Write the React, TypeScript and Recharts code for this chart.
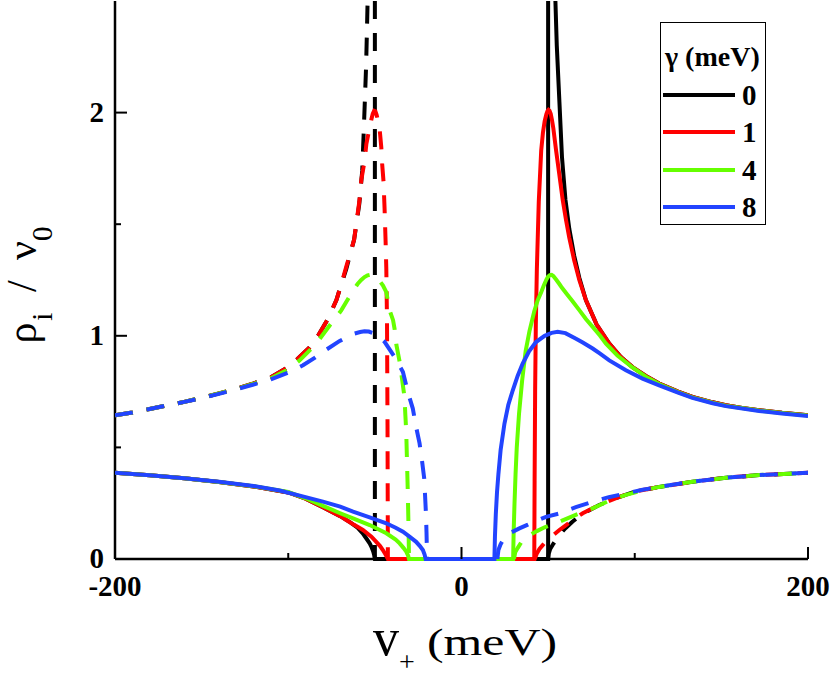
import React from 'react';
import { LineChart, Line, XAxis, YAxis } from 'recharts';

type Pt = [number, number | null];

const gammaLabels = ['0', '1', '4', '8'];
const gammaColors = ['#000000', '#ff0000', '#66ff00', '#2244ff'];

const xTicks = [-200, -100, 0, 100, 200];
const xLabeled = [-200, 0, 200];
const yTicks = [0, 0.5, 1, 1.5, 2];
const yLabeled = [0, 1, 2];

// solid curves (gamma = 0, 1, 4, 8)
const solid0: Pt[] = [[-200,0.386],[-180,0.375],[-160,0.362],[-140,0.345],[-120,0.325],[-100,0.298],[-90,0.27],[-80,0.232],[-70,0.192],[-64,0.163],[-60,0.14],[-57,0.115],[-55,0.093],[-53,0.07],[-52,0.055],[-51,0.035],[-50.4,0.018],[-50,0],[50,0],[50,2.5],[52,null],[54.2,2.5],[55,2.3],[56.5,2.05],[58,1.8],[60,1.61],[62.2,1.48],[65,1.36],[68,1.26],[71.8,1.16],[78,1.05],[85.3,0.965],[92,0.905],[98.7,0.86],[106.4,0.82],[114.1,0.786],[125,0.75],[133.3,0.726],[145,0.702],[152.6,0.689],[162,0.677],[171.8,0.667],[185,0.655],[200,0.644]];
const solid1: Pt[] = [[-200,0.386],[-180,0.375],[-160,0.362],[-140,0.345],[-120,0.325],[-100,0.298],[-90,0.27],[-80,0.232],[-70,0.192],[-66.5,0.175],[-62,0.153],[-56.9,0.13],[-52,0.1],[-49.2,0.077],[-47,0.058],[-45.4,0.04],[-44,0.022],[-43,0.008],[-42.5,0],[42,0],[42.2,0.35],[42.5,0.75],[42.9,1.05],[43.5,1.3],[44.6,1.6],[46,1.83],[47,1.91],[48,1.962],[49,1.993],[49.6,2.006],[50.2,2.012],[50.8,2.008],[51.5,1.995],[52.2,1.968],[53,1.93],[54.6,1.83],[56.5,1.72],[58.4,1.61],[60.3,1.52],[62.2,1.44],[65,1.34],[68,1.25],[71.8,1.16],[78,1.05],[85.3,0.965],[92,0.905],[98.7,0.86],[106.4,0.82],[114.1,0.786],[125,0.75],[133.3,0.726],[145,0.702],[152.6,0.689],[162,0.677],[171.8,0.667],[185,0.655],[200,0.644]];
const solid2: Pt[] = [[-200,0.386],[-180,0.375],[-160,0.362],[-140,0.345],[-120,0.326],[-100,0.3],[-90,0.272],[-80,0.238],[-70,0.205],[-62.6,0.182],[-53,0.152],[-43.4,0.115],[-38,0.087],[-35.7,0.07],[-33.5,0.05],[-31.9,0.033],[-30.8,0.015],[-30.3,0],[29.8,0],[30.1,0.12],[30.6,0.25],[31.2,0.38],[31.9,0.5],[33.2,0.65],[35,0.8],[37,0.93],[39.2,1.02],[42,1.11],[44,1.16],[46,1.195],[47.5,1.225],[49,1.252],[50,1.265],[51,1.272],[52,1.273],[53,1.268],[54.6,1.252],[56.5,1.232],[58,1.215],[61,1.185],[64.1,1.155],[68,1.115],[71.8,1.075],[75.7,1.04],[80,1.0],[83.4,0.965],[90,0.912],[98.7,0.858],[106.4,0.817],[114.1,0.784],[125,0.748],[133.3,0.724],[145,0.7],[152.6,0.687],[171.8,0.665],[185,0.654],[200,0.643]];
const solid3: Pt[] = [[-200,0.386],[-180,0.375],[-160,0.362],[-140,0.346],[-120,0.327],[-105,0.307],[-90,0.277],[-80,0.257],[-70,0.235],[-62.6,0.212],[-53,0.186],[-43.4,0.16],[-38,0.14],[-33.8,0.122],[-30,0.1],[-26.2,0.077],[-24,0.058],[-22.3,0.04],[-21.3,0.02],[-20.7,0],[19,0],[19.3,0.1],[19.8,0.2],[20.5,0.3],[21.3,0.38],[22.6,0.49],[24.8,0.607],[27,0.69],[29.6,0.756],[32.4,0.82],[35.3,0.875],[39,0.93],[43,0.972],[48,1.0],[52,1.013],[55.5,1.018],[60,1.012],[66.1,0.987],[70,0.97],[75.7,0.943],[80,0.92],[85.3,0.89],[94.9,0.846],[104.5,0.808],[114.1,0.778],[125,0.745],[133.3,0.722],[145,0.698],[152.6,0.685],[171.8,0.663],[185,0.652],[200,0.641]];

// dashed curves (gamma = 0, 1, 4, 8)
const dashed0: Pt[] = [[-200,0.644],[-190,0.656],[-180,0.672],[-170,0.688],[-160,0.704],[-150,0.722],[-140,0.742],[-130,0.763],[-120,0.787],[-110,0.814],[-101,0.855],[-94.4,0.898],[-88,0.945],[-82.8,1.0],[-77,1.077],[-72.2,1.16],[-69.4,1.23],[-66.5,1.3],[-62,1.43],[-59,1.59],[-57.3,1.74],[-56.5,1.9],[-55.8,2.05],[-55.1,2.2],[-54.6,2.36],[-54.2,2.5],[-52,null],[-50,2.5],[-50,0],[0,null],[50,0],[50.4,0.025],[51.2,0.045],[53,0.068],[55,0.092],[57,0.112],[60,0.138],[64,0.167],[70,0.203],[79.5,0.242],[90,0.275],[100,0.302],[114.1,0.323],[133.3,0.346],[152.6,0.364],[171.8,0.376],[200,0.386]];
const dashed1: Pt[] = [[-200,0.644],[-190,0.656],[-180,0.672],[-170,0.688],[-160,0.704],[-150,0.722],[-140,0.742],[-130,0.763],[-120,0.787],[-110,0.814],[-101,0.855],[-94.4,0.898],[-88,0.945],[-82.8,1.0],[-77,1.077],[-72.2,1.16],[-69.4,1.23],[-66.5,1.31],[-62,1.43],[-59,1.6],[-57.8,1.7],[-55.9,1.785],[-54.9,1.86],[-53,1.934],[-52,1.97],[-51.2,1.995],[-50.4,2.008],[-49.7,2.006],[-49,1.99],[-48.2,1.965],[-47.3,1.93],[-46.3,1.845],[-45.8,1.77],[-45,1.69],[-44.4,1.57],[-43.8,1.42],[-43.4,1.3],[-43,1.07],[-42.7,0.6],[-42.5,0],[0,null],[42.3,0],[43.5,0.025],[45,0.045],[47,0.063],[49,0.08],[52,0.1],[56.5,0.13],[60,0.15],[64.1,0.174],[70,0.205],[79.5,0.242],[90,0.275],[100,0.302],[114.1,0.323],[133.3,0.346],[152.6,0.364],[171.8,0.376],[200,0.386]];
const dashed2: Pt[] = [[-200,0.644],[-190,0.656],[-180,0.672],[-170,0.688],[-160,0.704],[-150,0.722],[-140,0.742],[-130,0.762],[-120,0.785],[-110,0.81],[-101,0.845],[-93.4,0.89],[-87,0.94],[-81.8,0.987],[-76,1.047],[-69.4,1.114],[-63.6,1.19],[-60,1.232],[-57.9,1.25],[-56,1.263],[-54.2,1.271],[-52.5,1.274],[-51,1.27],[-49.5,1.262],[-47.3,1.246],[-45.3,1.225],[-43.4,1.196],[-41.5,1.114],[-39.5,1.07],[-38.6,1.03],[-37.6,0.96],[-35.7,0.883],[-34.2,0.8],[-32.9,0.726],[-32.4,0.644],[-31.9,0.57],[-31.5,0.45],[-31,0.3],[-30.6,0.15],[-30.3,0],[0,null],[30.3,0],[31,0.03],[32.5,0.05],[35.3,0.085],[39,0.105],[43.5,0.125],[48,0.142],[52.6,0.155],[56.5,0.167],[63.2,0.189],[70,0.21],[75.7,0.227],[85,0.26],[94.9,0.287],[104.5,0.307],[114.1,0.323],[133.3,0.346],[152.6,0.364],[171.8,0.376],[200,0.386]];
const dashed3: Pt[] = [[-200,0.644],[-190,0.656],[-180,0.672],[-170,0.688],[-160,0.704],[-150,0.721],[-140,0.74],[-130,0.76],[-120,0.782],[-110,0.805],[-99.1,0.838],[-91.5,0.868],[-85,0.9],[-78,0.938],[-70.3,0.977],[-65,0.998],[-61.7,1.01],[-58.5,1.017],[-56,1.02],[-53.5,1.019],[-51,1.012],[-48,1.0],[-44.4,0.973],[-38.6,0.905],[-33.8,0.838],[-31,0.749],[-28.1,0.674],[-26.2,0.592],[-24.2,0.518],[-22.7,0.435],[-21.5,0.36],[-21,0.28],[-20.5,0.2],[-20.2,0.12],[-20,0.05],[-19.9,0],[0,null],[20.7,0],[21.3,0.04],[22.5,0.065],[24,0.085],[25.7,0.1],[29,0.12],[33.4,0.137],[38,0.153],[42,0.167],[48.8,0.189],[56.5,0.204],[66,0.232],[75.7,0.256],[85,0.277],[94.9,0.294],[104.5,0.31],[114.1,0.323],[133.3,0.346],[152.6,0.364],[171.8,0.376],[200,0.386]];

const solids = [solid0, solid1, solid2, solid3];
const dasheds = [dashed0, dashed1, dashed2, dashed3];

const toRows = (pts: Pt[]) => pts.map(([x, y]) => ({ x, y }));

const SERIF = "'Liberation Serif', 'Times New Roman', serif";
const AX = { stroke: '#000', strokeWidth: 2.5 };

const BottomTick = (props: any) => {
  const { x, y, payload } = props;
  const v = payload.value;
  const major = xLabeled.includes(v);
  return (
    <g>
      <line x1={x} x2={x} y1={y} y2={y - (major ? 12 : 6)} stroke="#000" strokeWidth={2} />
      {major && (
        <text x={x} y={y + 37} textAnchor="middle" fontFamily={SERIF} fontWeight="bold" fontSize={29} fill="#000">
          {v}
        </text>
      )}
    </g>
  );
};

const TopTick = (props: any) => {
  const { x, y, payload } = props;
  const major = xLabeled.includes(payload.value);
  return <line x1={x} x2={x} y1={y} y2={y + (major ? 12 : 6)} stroke="#000" strokeWidth={2} />;
};

const LeftTick = (props: any) => {
  const { x, y, payload } = props;
  const v = payload.value;
  const major = yLabeled.includes(v);
  return (
    <g>
      <line x1={x} x2={x + (major ? 12 : 6)} y1={y} y2={y} stroke="#000" strokeWidth={2} />
      {major && (
        <text x={x - 11} y={y + 9} textAnchor="end" fontFamily={SERIF} fontWeight="bold" fontSize={29} fill="#000">
          {v}
        </text>
      )}
    </g>
  );
};

const RightTick = (props: any) => {
  const { x, y, payload } = props;
  const major = yLabeled.includes(payload.value);
  return <line x1={x} x2={x - (major ? 12 : 6)} y1={y} y2={y} stroke="#000" strokeWidth={2} />;
};

const legendRowsY = [73, 110, 148, 185];

export default function App() {
  const series: React.ReactNode[] = [];
  for (let i = 0; i < 4; i++) {
    series.push(
      <Line
        key={'s' + i}
        data={toRows(solids[i])}
        dataKey="y"
        type="linear"
        stroke={gammaColors[i]}
        strokeWidth={4}
        dot={false}
        activeDot={false}
        isAnimationActive={false}
        connectNulls={false}
        zIndex={600 + i * 2}
      />
    );
    series.push(
      <Line
        key={'d' + i}
        data={toRows(dasheds[i])}
        dataKey="y"
        type="linear"
        stroke={gammaColors[i]}
        strokeWidth={4}
        strokeDasharray="18 14"
        dot={false}
        activeDot={false}
        isAnimationActive={false}
        connectNulls={false}
        zIndex={601 + i * 2}
      />
    );
  }

  return (
    <div style={{ position: 'absolute', left: 0, top: 0, width: 830, height: 678, background: '#fff' }}>
      <LineChart width={830} height={678} margin={{ top: 1, right: 22, bottom: 0, left: 0 }}>
        <XAxis
          xAxisId={0}
          dataKey="x"
          type="number"
          domain={[-200, 200]}
          ticks={xTicks}
          interval={0}
          height={119}
          tickSize={0}
          tickMargin={0}
          tickLine={false}
          axisLine={AX}
          tick={BottomTick}
          allowDataOverflow
        />
        <XAxis
          xAxisId="top"
          orientation="top"
          dataKey="x"
          type="number"
          domain={[-200, 200]}
          ticks={xTicks}
          interval={0}
          height={0}
          tickSize={0}
          tickMargin={0}
          tickLine={false}
          axisLine={AX}
          tick={TopTick}
          allowDataOverflow
        />
        <YAxis
          yAxisId={0}
          type="number"
          domain={[0, 2.5]}
          ticks={yTicks}
          interval={0}
          width={115}
          tickSize={0}
          tickMargin={0}
          tickLine={false}
          axisLine={AX}
          tick={LeftTick}
        />
        <YAxis
          yAxisId="right"
          orientation="right"
          type="number"
          domain={[0, 2.5]}
          ticks={yTicks}
          interval={0}
          width={0}
          tickSize={0}
          tickMargin={0}
          tickLine={false}
          axisLine={AX}
          tick={RightTick}
          allowDataOverflow
        />
        {series}
      </LineChart>

      <svg
        width={830}
        height={678}
        style={{ position: 'absolute', left: 0, top: 0, pointerEvents: 'none' }}
      >
        <text x={373} y={655} fontFamily={SERIF} fill="#000">
          <tspan fontSize={52}>v</tspan>
          <tspan fontSize={28} dy={16}>+</tspan>
        </text>
        <text x={427} y={655} fontFamily={SERIF} fontSize={38} fill="#000" textLength={130} lengthAdjust="spacingAndGlyphs">
          (meV)
        </text>
        <text
          transform="translate(36,285) rotate(-90)"
          textAnchor="middle"
          fontFamily={SERIF}
          fill="#000"
        >
          <tspan fontSize={42}>ρ</tspan>
          <tspan fontSize={29} dy={16} dx={2}>i</tspan>
          <tspan fontSize={42} dy={-16} dx={10}>{' / '}</tspan>
          <tspan fontSize={42} dx={10}>ν</tspan>
          <tspan fontSize={29} dy={16}>0</tspan>
        </text>
      </svg>

      <div
        style={{
          position: 'absolute',
          left: 660,
          top: 22,
          width: 106,
          height: 203,
          boxSizing: 'border-box',
          border: '1.5px solid #000',
          background: '#fff',
        }}
      >
        <svg width={106} height={203} style={{ position: 'absolute', left: -1.5, top: -1.5 }}>
          <text x={5} y={44} fontFamily={SERIF} fontWeight="bold" fontSize={28} fill="#000">
            γ (meV)
          </text>
          {gammaLabels.map((g, i) => (
            <g key={g}>
              <line x1={3} x2={75} y1={legendRowsY[i]} y2={legendRowsY[i]} stroke={gammaColors[i]} strokeWidth={4} />
              <text x={82} y={legendRowsY[i] + 10} fontFamily={SERIF} fontWeight="bold" fontSize={29} fill="#000">
                {g}
              </text>
            </g>
          ))}
        </svg>
      </div>
    </div>
  );
}
